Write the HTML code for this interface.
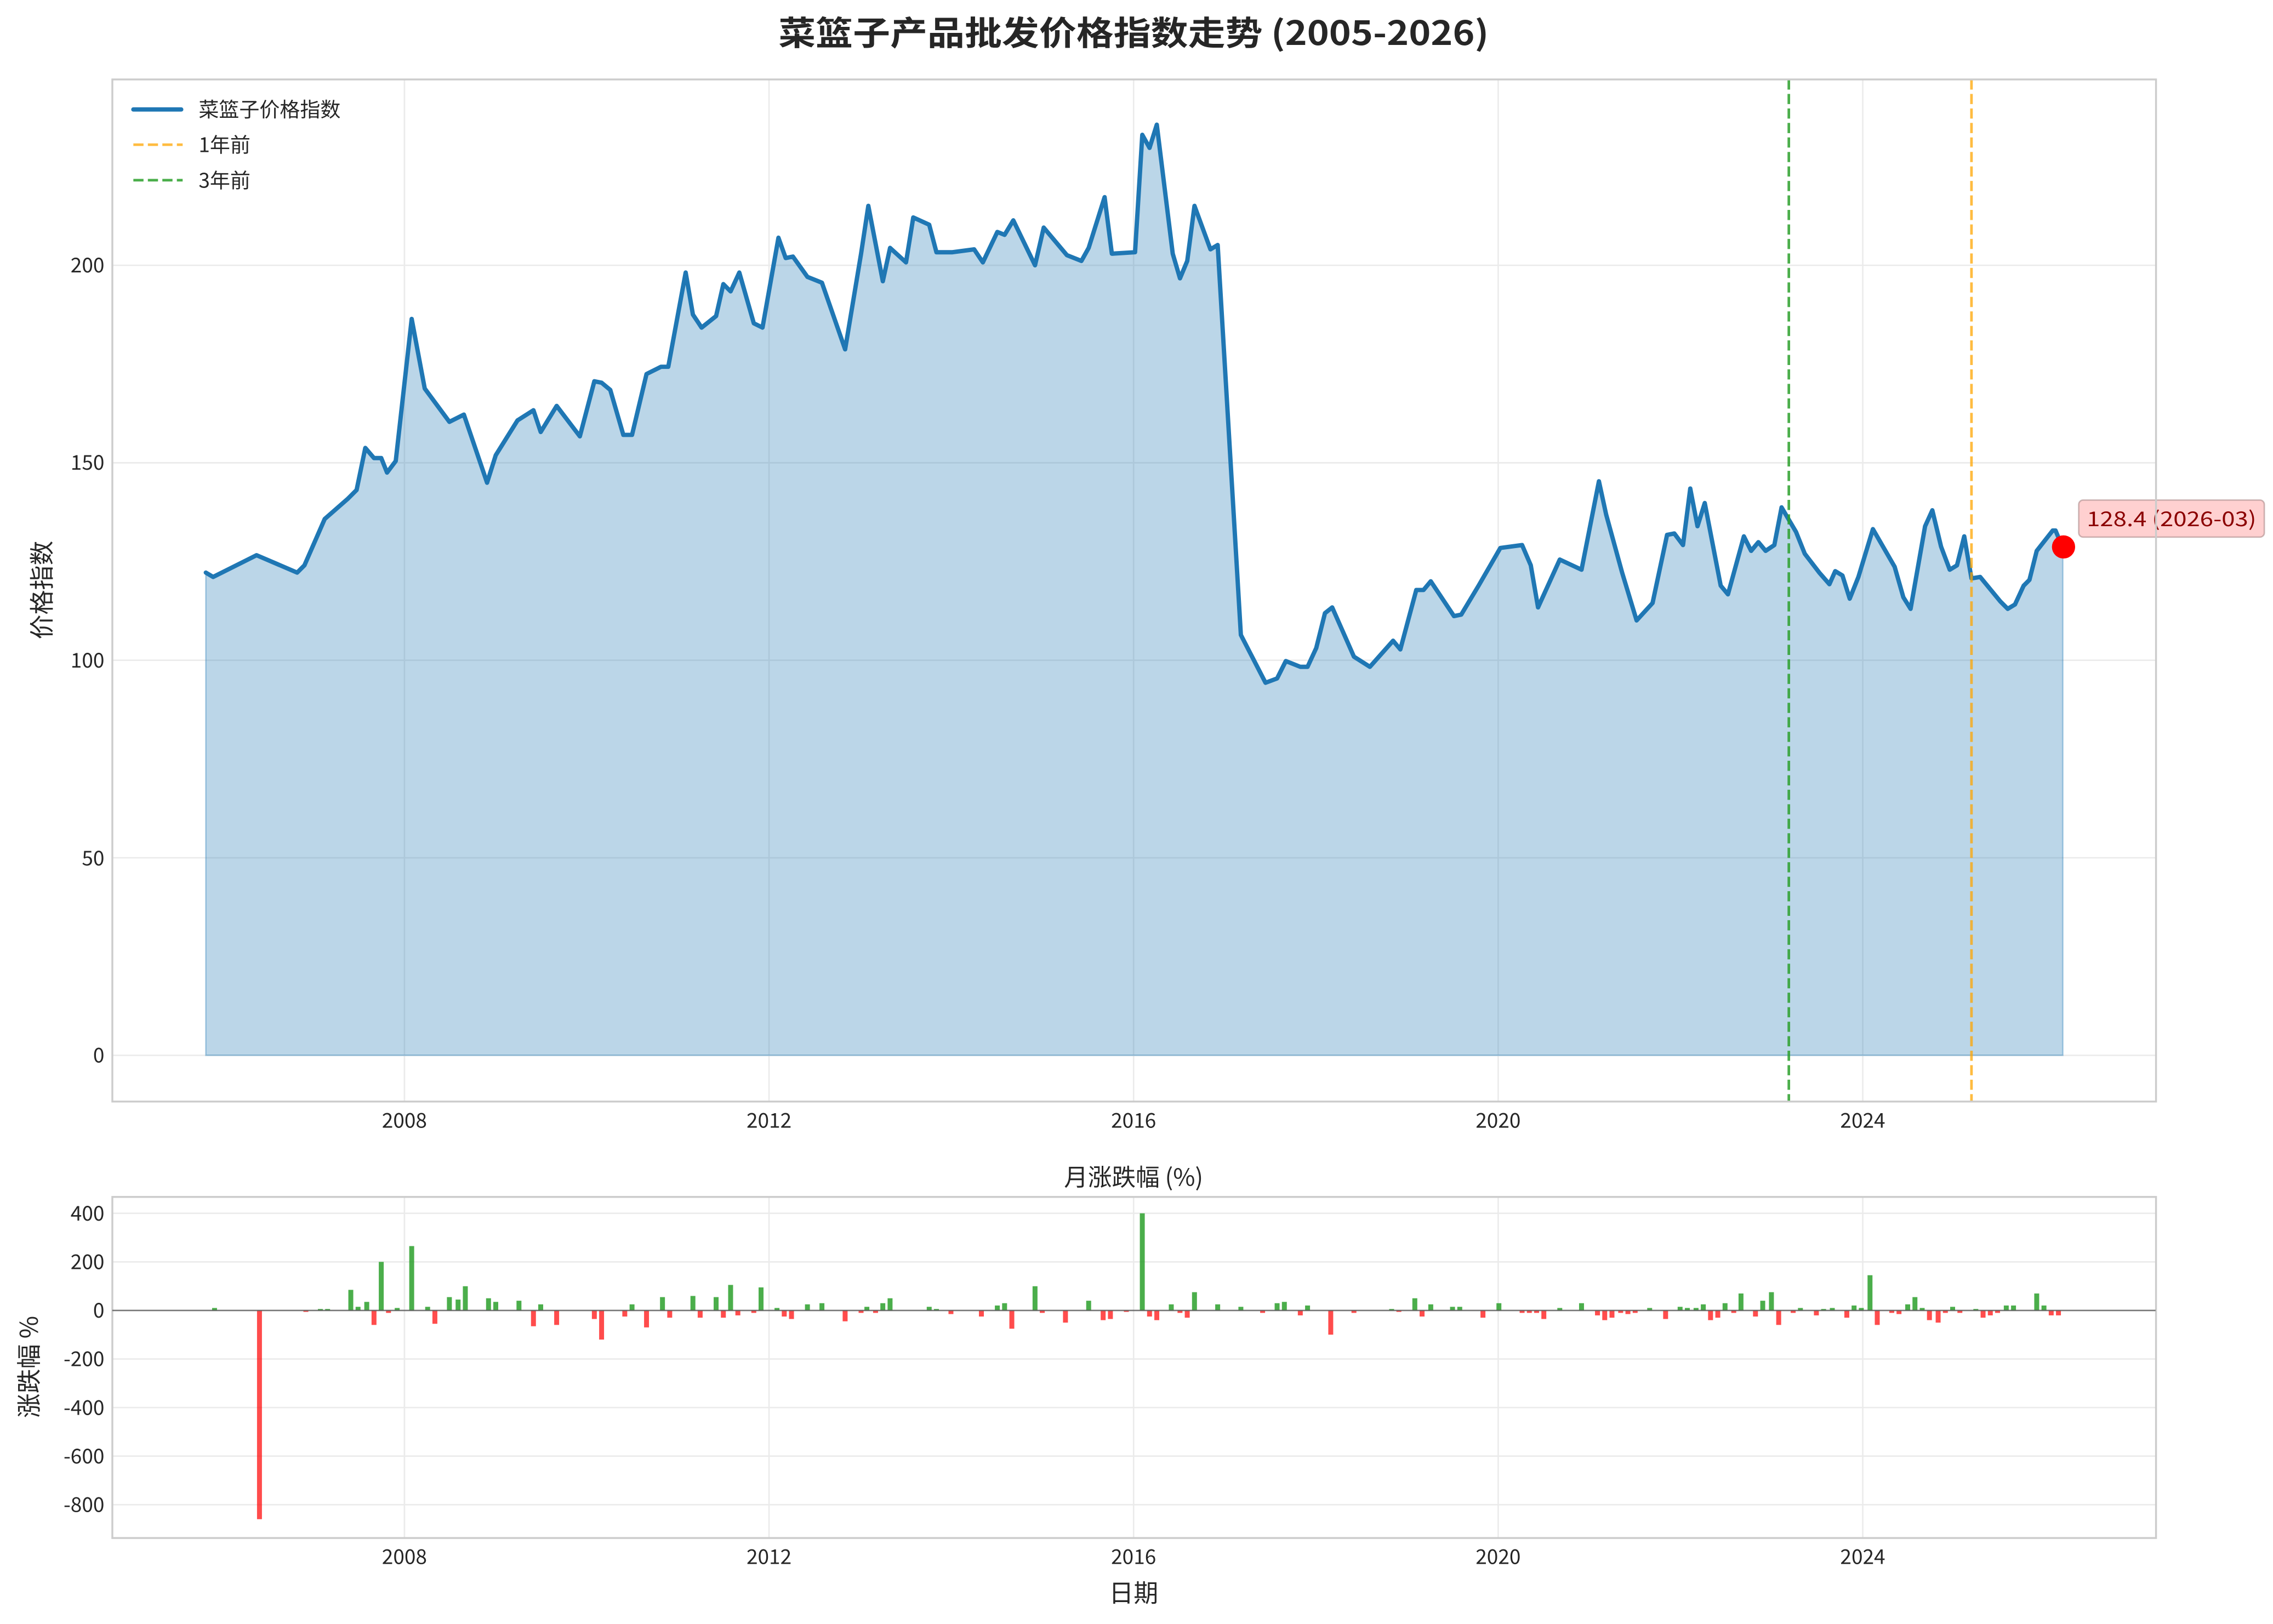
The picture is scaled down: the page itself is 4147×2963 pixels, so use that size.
<!DOCTYPE html>
<html><head><meta charset="utf-8"><style>html,body{margin:0;padding:0;background:#fff}svg{display:block}</style></head>
<body>
<svg width="4147" height="2963" viewBox="0 0 1568 1120.3" xmlns="http://www.w3.org/2000/svg" font-family="'Noto Sans CJK SC','Liberation Sans',sans-serif">
<rect width="1568" height="1120.3" fill="#fff"/>
<text x="782" y="31" text-anchor="middle" font-size="23" font-weight="bold" fill="#262626" textLength="490" lengthAdjust="spacingAndGlyphs">菜篮子产品批发价格指数走势 (2005-2026)</text>
<defs><clipPath id="c1"><rect x="77.5" y="54.8" width="1409.8" height="705.1"/></clipPath></defs>
<g stroke="#ebebeb" stroke-width="1">
<line x1="279" y1="54.8" x2="279" y2="760"/><line x1="530.5" y1="54.8" x2="530.5" y2="760"/><line x1="782" y1="54.8" x2="782" y2="760"/><line x1="1033.5" y1="54.8" x2="1033.5" y2="760"/><line x1="1285" y1="54.8" x2="1285" y2="760"/>
<line x1="77.5" y1="728" x2="1487" y2="728"/><line x1="77.5" y1="591.75" x2="1487" y2="591.75"/><line x1="77.5" y1="455.5" x2="1487" y2="455.5"/><line x1="77.5" y1="319.25" x2="1487" y2="319.25"/><line x1="77.5" y1="183" x2="1487" y2="183"/>
</g>
<g clip-path="url(#c1)">
<polygon fill="#1f77b4" fill-opacity="0.3" stroke="#1f77b4" stroke-opacity="0.35" stroke-width="1" points="142,728 142,395 147,398 177,383 205,395 210,390 224,358 240,344 246,338 252,309 258,316 263,316 267,326 273,318 284,220 293,268 310,291 320,286 336,333 342,314 357,290 368,283 373,298 384,280 400,301 410,263 415,264 421,269 430,300 436,300 446,258 456,253 461,253 473,188 478,217 484,226 494,218 499,196 504,201 510,188 520,223 526,226 537,164 542,178 547,177 557,191 567,195 583,241 594,175 599,142 609,194 614,171 625,181 630,150 641,155 646,174 657,174 672,172 678,181 688,160 693,162 699,152 714,183 720,157 736,176 746,180 751,171 762,136 767,175 783,174 788,93 793,102 798,86 809,175 814,192 819,180 824,142 835,172 840,169 856,438 873,471 881,468 887,456 897,460 902,460 908,447 914,423 919,419 934,453 945,460 961,442 966,448 977,407 982,407 987,401 1003,425 1008,424 1020,404 1035,378 1050,376 1056,390 1061,419 1076,386 1091,393 1103,332 1108,355 1119,395 1129,428 1140,416 1150,369 1155,368 1161,376 1166,337 1171,363 1176,347 1187,404 1192,410 1203,370 1208,380 1213,374 1218,380 1224,376 1229,350 1239,367 1245,382 1255,395 1262,403 1266,394 1271,397 1276,413 1282,398 1292,365 1307,391 1313,412 1318,420 1328,363 1333,352 1339,377 1345,393 1350,390 1355,370 1360,399 1366,398 1380,415 1385,420 1390,417 1396,404 1400,400 1405,380 1416,366 1418,366 1423,378 1423,728"/>
<polyline fill="none" stroke="#1f77b4" stroke-width="3" stroke-linejoin="round" stroke-linecap="round" points="142,395 147,398 177,383 205,395 210,390 224,358 240,344 246,338 252,309 258,316 263,316 267,326 273,318 284,220 293,268 310,291 320,286 336,333 342,314 357,290 368,283 373,298 384,280 400,301 410,263 415,264 421,269 430,300 436,300 446,258 456,253 461,253 473,188 478,217 484,226 494,218 499,196 504,201 510,188 520,223 526,226 537,164 542,178 547,177 557,191 567,195 583,241 594,175 599,142 609,194 614,171 625,181 630,150 641,155 646,174 657,174 672,172 678,181 688,160 693,162 699,152 714,183 720,157 736,176 746,180 751,171 762,136 767,175 783,174 788,93 793,102 798,86 809,175 814,192 819,180 824,142 835,172 840,169 856,438 873,471 881,468 887,456 897,460 902,460 908,447 914,423 919,419 934,453 945,460 961,442 966,448 977,407 982,407 987,401 1003,425 1008,424 1020,404 1035,378 1050,376 1056,390 1061,419 1076,386 1091,393 1103,332 1108,355 1119,395 1129,428 1140,416 1150,369 1155,368 1161,376 1166,337 1171,363 1176,347 1187,404 1192,410 1203,370 1208,380 1213,374 1218,380 1224,376 1229,350 1239,367 1245,382 1255,395 1262,403 1266,394 1271,397 1276,413 1282,398 1292,365 1307,391 1313,412 1318,420 1328,363 1333,352 1339,377 1345,393 1350,390 1355,370 1360,399 1366,398 1380,415 1385,420 1390,417 1396,404 1400,400 1405,380 1416,366 1418,366 1423,378"/>
</g>
<line x1="1234" y1="54.8" x2="1234" y2="760" stroke="#2ca02c" stroke-opacity="0.85" stroke-width="1.8" stroke-dasharray="7,3"/>
<line x1="1360" y1="54.8" x2="1360" y2="760" stroke="#ffa500" stroke-opacity="0.75" stroke-width="1.8" stroke-dasharray="7,3"/>
<circle cx="1423.5" cy="377.3" r="8" fill="#ff0000"/>
<rect x="1434" y="345" width="128" height="25.5" rx="3" fill="#ffaaaa" fill-opacity="0.55" stroke="#aa8888" stroke-opacity="0.6" stroke-width="1"/>
<text x="1498" y="363" text-anchor="middle" font-size="14" fill="#8b0000" textLength="117" lengthAdjust="spacingAndGlyphs">128.4 (2026-03)</text>
<rect x="77.5" y="54.8" width="1409.8" height="705.1" fill="none" stroke="#cccccc" stroke-width="1.3"/>
<g font-size="14" fill="#262626" text-anchor="end">
<text x="72" y="733">0</text><text x="72" y="597">50</text><text x="72" y="460.5">100</text><text x="72" y="324">150</text><text x="72" y="188">200</text>
</g>
<g font-size="14" fill="#262626" text-anchor="middle">
<text x="279" y="778">2008</text><text x="530.5" y="778">2012</text><text x="782" y="778">2016</text><text x="1033.5" y="778">2020</text><text x="1285" y="778">2024</text>
</g>
<text transform="translate(35,407) rotate(-90)" text-anchor="middle" font-size="17" fill="#262626">价格指数</text>
<g>
<line x1="92" y1="75.5" x2="125" y2="75.5" stroke="#1f77b4" stroke-width="3" stroke-linecap="round"/>
<text x="137" y="80.5" font-size="14" fill="#262626">菜篮子价格指数</text>
<line x1="92" y1="99.8" x2="126" y2="99.8" stroke="#ffa500" stroke-opacity="0.75" stroke-width="1.8" stroke-dasharray="7,3"/>
<text x="137" y="105" font-size="14" fill="#262626">1年前</text>
<line x1="92" y1="124.3" x2="126" y2="124.3" stroke="#2ca02c" stroke-opacity="0.85" stroke-width="1.8" stroke-dasharray="7,3"/>
<text x="137" y="129.5" font-size="14" fill="#262626">3年前</text>
</g>
<text x="782" y="818" text-anchor="middle" font-size="16.5" fill="#262626">月涨跌幅 (%)</text>
<g stroke="#ebebeb" stroke-width="1">
<line x1="279" y1="825.7" x2="279" y2="1061"/><line x1="530.5" y1="825.7" x2="530.5" y2="1061"/><line x1="782" y1="825.7" x2="782" y2="1061"/><line x1="1033.5" y1="825.7" x2="1033.5" y2="1061"/><line x1="1285" y1="825.7" x2="1285" y2="1061"/>
<line x1="77.5" y1="837" x2="1487" y2="837"/><line x1="77.5" y1="870.5" x2="1487" y2="870.5"/><line x1="77.5" y1="937.5" x2="1487" y2="937.5"/><line x1="77.5" y1="971" x2="1487" y2="971"/><line x1="77.5" y1="1004.5" x2="1487" y2="1004.5"/><line x1="77.5" y1="1038" x2="1487" y2="1038"/>
</g>
<rect x="77.5" y="825.7" width="1409.8" height="235.3" fill="none" stroke="#cccccc" stroke-width="1.3"/>
<g font-size="14" fill="#262626" text-anchor="end">
<text x="72" y="842">400</text><text x="72" y="875.5">200</text><text x="72" y="909">0</text><text x="72" y="942.5">-200</text><text x="72" y="976">-400</text><text x="72" y="1009.5">-600</text><text x="72" y="1043">-800</text>
</g>
<g font-size="14" fill="#262626" text-anchor="middle">
<text x="279" y="1079">2008</text><text x="530.5" y="1079">2012</text><text x="782" y="1079">2016</text><text x="1033.5" y="1079">2020</text><text x="1285" y="1079">2024</text>
</g>
<text x="782" y="1105" text-anchor="middle" font-size="17" fill="#262626">日期</text>
<text transform="translate(26,943) rotate(-90)" text-anchor="middle" font-size="17" fill="#262626">涨跌幅 %</text>
<g>
<rect x="146.3" y="902.3" width="3.4" height="1.7" fill="#2ca02c" fill-opacity="0.85"/>
<rect x="177.3" y="904" width="3.4" height="144" fill="#ff0000" fill-opacity="0.7"/>
<rect x="209.3" y="904" width="3.4" height="1" fill="#ff0000" fill-opacity="0.7"/>
<rect x="219.3" y="903" width="3.4" height="1" fill="#2ca02c" fill-opacity="0.85"/>
<rect x="224.3" y="903" width="3.4" height="1" fill="#2ca02c" fill-opacity="0.85"/>
<rect x="240.3" y="889.8" width="3.4" height="14.2" fill="#2ca02c" fill-opacity="0.85"/>
<rect x="245.3" y="901.5" width="3.4" height="2.5" fill="#2ca02c" fill-opacity="0.85"/>
<rect x="251.3" y="898.1" width="3.4" height="5.9" fill="#2ca02c" fill-opacity="0.85"/>
<rect x="256.3" y="904" width="3.4" height="10" fill="#ff0000" fill-opacity="0.7"/>
<rect x="261.3" y="870.5" width="3.4" height="33.5" fill="#2ca02c" fill-opacity="0.85"/>
<rect x="266.3" y="904" width="3.4" height="1.7" fill="#ff0000" fill-opacity="0.7"/>
<rect x="272.3" y="902.3" width="3.4" height="1.7" fill="#2ca02c" fill-opacity="0.85"/>
<rect x="282.3" y="859.6" width="3.4" height="44.4" fill="#2ca02c" fill-opacity="0.85"/>
<rect x="293.3" y="901.5" width="3.4" height="2.5" fill="#2ca02c" fill-opacity="0.85"/>
<rect x="298.3" y="904" width="3.4" height="9.2" fill="#ff0000" fill-opacity="0.7"/>
<rect x="308.3" y="894.8" width="3.4" height="9.2" fill="#2ca02c" fill-opacity="0.85"/>
<rect x="314.3" y="896.5" width="3.4" height="7.5" fill="#2ca02c" fill-opacity="0.85"/>
<rect x="319.3" y="887.3" width="3.4" height="16.7" fill="#2ca02c" fill-opacity="0.85"/>
<rect x="335.3" y="895.6" width="3.4" height="8.4" fill="#2ca02c" fill-opacity="0.85"/>
<rect x="340.3" y="898.1" width="3.4" height="5.9" fill="#2ca02c" fill-opacity="0.85"/>
<rect x="356.3" y="897.3" width="3.4" height="6.7" fill="#2ca02c" fill-opacity="0.85"/>
<rect x="366.3" y="904" width="3.4" height="10.9" fill="#ff0000" fill-opacity="0.7"/>
<rect x="371.3" y="899.8" width="3.4" height="4.2" fill="#2ca02c" fill-opacity="0.85"/>
<rect x="382.3" y="904" width="3.4" height="10" fill="#ff0000" fill-opacity="0.7"/>
<rect x="408.3" y="904" width="3.4" height="5.9" fill="#ff0000" fill-opacity="0.7"/>
<rect x="413.3" y="904" width="3.4" height="20.1" fill="#ff0000" fill-opacity="0.7"/>
<rect x="429.3" y="904" width="3.4" height="4.2" fill="#ff0000" fill-opacity="0.7"/>
<rect x="434.3" y="899.8" width="3.4" height="4.2" fill="#2ca02c" fill-opacity="0.85"/>
<rect x="444.3" y="904" width="3.4" height="11.7" fill="#ff0000" fill-opacity="0.7"/>
<rect x="455.3" y="894.8" width="3.4" height="9.2" fill="#2ca02c" fill-opacity="0.85"/>
<rect x="460.3" y="904" width="3.4" height="5" fill="#ff0000" fill-opacity="0.7"/>
<rect x="476.3" y="894" width="3.4" height="10" fill="#2ca02c" fill-opacity="0.85"/>
<rect x="481.3" y="904" width="3.4" height="5" fill="#ff0000" fill-opacity="0.7"/>
<rect x="492.3" y="894.8" width="3.4" height="9.2" fill="#2ca02c" fill-opacity="0.85"/>
<rect x="497.3" y="904" width="3.4" height="5" fill="#ff0000" fill-opacity="0.7"/>
<rect x="502.3" y="886.4" width="3.4" height="17.6" fill="#2ca02c" fill-opacity="0.85"/>
<rect x="507.3" y="904" width="3.4" height="3.4" fill="#ff0000" fill-opacity="0.7"/>
<rect x="518.3" y="904" width="3.4" height="1.7" fill="#ff0000" fill-opacity="0.7"/>
<rect x="523.3" y="888.1" width="3.4" height="15.9" fill="#2ca02c" fill-opacity="0.85"/>
<rect x="534.3" y="902.3" width="3.4" height="1.7" fill="#2ca02c" fill-opacity="0.85"/>
<rect x="539.3" y="904" width="3.4" height="4.2" fill="#ff0000" fill-opacity="0.7"/>
<rect x="544.3" y="904" width="3.4" height="5.9" fill="#ff0000" fill-opacity="0.7"/>
<rect x="555.3" y="899.8" width="3.4" height="4.2" fill="#2ca02c" fill-opacity="0.85"/>
<rect x="565.3" y="899" width="3.4" height="5" fill="#2ca02c" fill-opacity="0.85"/>
<rect x="581.3" y="904" width="3.4" height="7.5" fill="#ff0000" fill-opacity="0.7"/>
<rect x="592.3" y="904" width="3.4" height="1.7" fill="#ff0000" fill-opacity="0.7"/>
<rect x="596.3" y="901.5" width="3.4" height="2.5" fill="#2ca02c" fill-opacity="0.85"/>
<rect x="602.3" y="904" width="3.4" height="1.7" fill="#ff0000" fill-opacity="0.7"/>
<rect x="607.3" y="899" width="3.4" height="5" fill="#2ca02c" fill-opacity="0.85"/>
<rect x="612.3" y="895.6" width="3.4" height="8.4" fill="#2ca02c" fill-opacity="0.85"/>
<rect x="639.3" y="901.5" width="3.4" height="2.5" fill="#2ca02c" fill-opacity="0.85"/>
<rect x="644.3" y="903" width="3.4" height="1" fill="#2ca02c" fill-opacity="0.85"/>
<rect x="654.3" y="904" width="3.4" height="2.5" fill="#ff0000" fill-opacity="0.7"/>
<rect x="675.3" y="904" width="3.4" height="4.2" fill="#ff0000" fill-opacity="0.7"/>
<rect x="686.3" y="900.6" width="3.4" height="3.4" fill="#2ca02c" fill-opacity="0.85"/>
<rect x="691.3" y="899" width="3.4" height="5" fill="#2ca02c" fill-opacity="0.85"/>
<rect x="696.3" y="904" width="3.4" height="12.6" fill="#ff0000" fill-opacity="0.7"/>
<rect x="712.3" y="887.3" width="3.4" height="16.7" fill="#2ca02c" fill-opacity="0.85"/>
<rect x="717.3" y="904" width="3.4" height="1.7" fill="#ff0000" fill-opacity="0.7"/>
<rect x="733.3" y="904" width="3.4" height="8.4" fill="#ff0000" fill-opacity="0.7"/>
<rect x="749.3" y="897.3" width="3.4" height="6.7" fill="#2ca02c" fill-opacity="0.85"/>
<rect x="759.3" y="904" width="3.4" height="6.7" fill="#ff0000" fill-opacity="0.7"/>
<rect x="764.3" y="904" width="3.4" height="5.9" fill="#ff0000" fill-opacity="0.7"/>
<rect x="775.3" y="904" width="3.4" height="1" fill="#ff0000" fill-opacity="0.7"/>
<rect x="786.3" y="837" width="3.4" height="67" fill="#2ca02c" fill-opacity="0.85"/>
<rect x="791.3" y="904" width="3.4" height="4.2" fill="#ff0000" fill-opacity="0.7"/>
<rect x="796.3" y="904" width="3.4" height="6.7" fill="#ff0000" fill-opacity="0.7"/>
<rect x="806.3" y="899.8" width="3.4" height="4.2" fill="#2ca02c" fill-opacity="0.85"/>
<rect x="812.3" y="904" width="3.4" height="1.7" fill="#ff0000" fill-opacity="0.7"/>
<rect x="817.3" y="904" width="3.4" height="5" fill="#ff0000" fill-opacity="0.7"/>
<rect x="822.3" y="891.4" width="3.4" height="12.6" fill="#2ca02c" fill-opacity="0.85"/>
<rect x="838.3" y="899.8" width="3.4" height="4.2" fill="#2ca02c" fill-opacity="0.85"/>
<rect x="854.3" y="901.5" width="3.4" height="2.5" fill="#2ca02c" fill-opacity="0.85"/>
<rect x="869.3" y="904" width="3.4" height="1.7" fill="#ff0000" fill-opacity="0.7"/>
<rect x="879.3" y="899" width="3.4" height="5" fill="#2ca02c" fill-opacity="0.85"/>
<rect x="884.3" y="898.1" width="3.4" height="5.9" fill="#2ca02c" fill-opacity="0.85"/>
<rect x="895.3" y="904" width="3.4" height="3.4" fill="#ff0000" fill-opacity="0.7"/>
<rect x="900.3" y="900.6" width="3.4" height="3.4" fill="#2ca02c" fill-opacity="0.85"/>
<rect x="916.3" y="904" width="3.4" height="16.7" fill="#ff0000" fill-opacity="0.7"/>
<rect x="932.3" y="904" width="3.4" height="1.7" fill="#ff0000" fill-opacity="0.7"/>
<rect x="958.3" y="903" width="3.4" height="1" fill="#2ca02c" fill-opacity="0.85"/>
<rect x="963.3" y="904" width="3.4" height="1" fill="#ff0000" fill-opacity="0.7"/>
<rect x="974.3" y="895.6" width="3.4" height="8.4" fill="#2ca02c" fill-opacity="0.85"/>
<rect x="979.3" y="904" width="3.4" height="4.2" fill="#ff0000" fill-opacity="0.7"/>
<rect x="985.3" y="899.8" width="3.4" height="4.2" fill="#2ca02c" fill-opacity="0.85"/>
<rect x="1000.3" y="901.5" width="3.4" height="2.5" fill="#2ca02c" fill-opacity="0.85"/>
<rect x="1005.3" y="901.5" width="3.4" height="2.5" fill="#2ca02c" fill-opacity="0.85"/>
<rect x="1021.3" y="904" width="3.4" height="5" fill="#ff0000" fill-opacity="0.7"/>
<rect x="1032.3" y="899" width="3.4" height="5" fill="#2ca02c" fill-opacity="0.85"/>
<rect x="1048.3" y="904" width="3.4" height="1.7" fill="#ff0000" fill-opacity="0.7"/>
<rect x="1053.3" y="904" width="3.4" height="1.7" fill="#ff0000" fill-opacity="0.7"/>
<rect x="1058.3" y="904" width="3.4" height="1.7" fill="#ff0000" fill-opacity="0.7"/>
<rect x="1063.3" y="904" width="3.4" height="5.9" fill="#ff0000" fill-opacity="0.7"/>
<rect x="1074.3" y="902.3" width="3.4" height="1.7" fill="#2ca02c" fill-opacity="0.85"/>
<rect x="1089.3" y="899" width="3.4" height="5" fill="#2ca02c" fill-opacity="0.85"/>
<rect x="1100.3" y="904" width="3.4" height="3.4" fill="#ff0000" fill-opacity="0.7"/>
<rect x="1105.3" y="904" width="3.4" height="6.7" fill="#ff0000" fill-opacity="0.7"/>
<rect x="1110.3" y="904" width="3.4" height="5" fill="#ff0000" fill-opacity="0.7"/>
<rect x="1116.3" y="904" width="3.4" height="1.7" fill="#ff0000" fill-opacity="0.7"/>
<rect x="1121.3" y="904" width="3.4" height="2.5" fill="#ff0000" fill-opacity="0.7"/>
<rect x="1126.3" y="904" width="3.4" height="1.7" fill="#ff0000" fill-opacity="0.7"/>
<rect x="1136.3" y="902.3" width="3.4" height="1.7" fill="#2ca02c" fill-opacity="0.85"/>
<rect x="1147.3" y="904" width="3.4" height="5.9" fill="#ff0000" fill-opacity="0.7"/>
<rect x="1157.3" y="901.5" width="3.4" height="2.5" fill="#2ca02c" fill-opacity="0.85"/>
<rect x="1162.3" y="902.3" width="3.4" height="1.7" fill="#2ca02c" fill-opacity="0.85"/>
<rect x="1168.3" y="902.3" width="3.4" height="1.7" fill="#2ca02c" fill-opacity="0.85"/>
<rect x="1173.3" y="899.8" width="3.4" height="4.2" fill="#2ca02c" fill-opacity="0.85"/>
<rect x="1178.3" y="904" width="3.4" height="6.7" fill="#ff0000" fill-opacity="0.7"/>
<rect x="1183.3" y="904" width="3.4" height="5" fill="#ff0000" fill-opacity="0.7"/>
<rect x="1188.3" y="899" width="3.4" height="5" fill="#2ca02c" fill-opacity="0.85"/>
<rect x="1194.3" y="904" width="3.4" height="1.7" fill="#ff0000" fill-opacity="0.7"/>
<rect x="1199.3" y="892.3" width="3.4" height="11.7" fill="#2ca02c" fill-opacity="0.85"/>
<rect x="1209.3" y="904" width="3.4" height="4.2" fill="#ff0000" fill-opacity="0.7"/>
<rect x="1214.3" y="897.3" width="3.4" height="6.7" fill="#2ca02c" fill-opacity="0.85"/>
<rect x="1220.3" y="891.4" width="3.4" height="12.6" fill="#2ca02c" fill-opacity="0.85"/>
<rect x="1225.3" y="904" width="3.4" height="10" fill="#ff0000" fill-opacity="0.7"/>
<rect x="1235.3" y="904" width="3.4" height="1.7" fill="#ff0000" fill-opacity="0.7"/>
<rect x="1240.3" y="902.3" width="3.4" height="1.7" fill="#2ca02c" fill-opacity="0.85"/>
<rect x="1251.3" y="904" width="3.4" height="3.4" fill="#ff0000" fill-opacity="0.7"/>
<rect x="1256.3" y="903" width="3.4" height="1" fill="#2ca02c" fill-opacity="0.85"/>
<rect x="1262.3" y="902.3" width="3.4" height="1.7" fill="#2ca02c" fill-opacity="0.85"/>
<rect x="1272.3" y="904" width="3.4" height="5" fill="#ff0000" fill-opacity="0.7"/>
<rect x="1277.3" y="900.6" width="3.4" height="3.4" fill="#2ca02c" fill-opacity="0.85"/>
<rect x="1282.3" y="902.3" width="3.4" height="1.7" fill="#2ca02c" fill-opacity="0.85"/>
<rect x="1288.3" y="879.7" width="3.4" height="24.3" fill="#2ca02c" fill-opacity="0.85"/>
<rect x="1293.3" y="904" width="3.4" height="10" fill="#ff0000" fill-opacity="0.7"/>
<rect x="1303.3" y="904" width="3.4" height="1.7" fill="#ff0000" fill-opacity="0.7"/>
<rect x="1308.3" y="904" width="3.4" height="2.5" fill="#ff0000" fill-opacity="0.7"/>
<rect x="1314.3" y="899.8" width="3.4" height="4.2" fill="#2ca02c" fill-opacity="0.85"/>
<rect x="1319.3" y="894.8" width="3.4" height="9.2" fill="#2ca02c" fill-opacity="0.85"/>
<rect x="1324.3" y="902.3" width="3.4" height="1.7" fill="#2ca02c" fill-opacity="0.85"/>
<rect x="1329.3" y="904" width="3.4" height="6.7" fill="#ff0000" fill-opacity="0.7"/>
<rect x="1335.3" y="904" width="3.4" height="8.4" fill="#ff0000" fill-opacity="0.7"/>
<rect x="1340.3" y="904" width="3.4" height="1.7" fill="#ff0000" fill-opacity="0.7"/>
<rect x="1345.3" y="901.5" width="3.4" height="2.5" fill="#2ca02c" fill-opacity="0.85"/>
<rect x="1350.3" y="904" width="3.4" height="1.7" fill="#ff0000" fill-opacity="0.7"/>
<rect x="1361.3" y="903" width="3.4" height="1" fill="#2ca02c" fill-opacity="0.85"/>
<rect x="1366.3" y="904" width="3.4" height="5" fill="#ff0000" fill-opacity="0.7"/>
<rect x="1371.3" y="904" width="3.4" height="3.4" fill="#ff0000" fill-opacity="0.7"/>
<rect x="1376.3" y="904" width="3.4" height="1.7" fill="#ff0000" fill-opacity="0.7"/>
<rect x="1382.3" y="900.6" width="3.4" height="3.4" fill="#2ca02c" fill-opacity="0.85"/>
<rect x="1387.3" y="900.6" width="3.4" height="3.4" fill="#2ca02c" fill-opacity="0.85"/>
<rect x="1403.3" y="892.3" width="3.4" height="11.7" fill="#2ca02c" fill-opacity="0.85"/>
<rect x="1408.3" y="900.6" width="3.4" height="3.4" fill="#2ca02c" fill-opacity="0.85"/>
<rect x="1413.3" y="904" width="3.4" height="3.4" fill="#ff0000" fill-opacity="0.7"/>
<rect x="1418.3" y="904" width="3.4" height="3.4" fill="#ff0000" fill-opacity="0.7"/>
</g>
<line x1="77.5" y1="904" x2="1487" y2="904" stroke="#555" stroke-opacity="0.8" stroke-width="1"/>
</svg>
</body></html>
